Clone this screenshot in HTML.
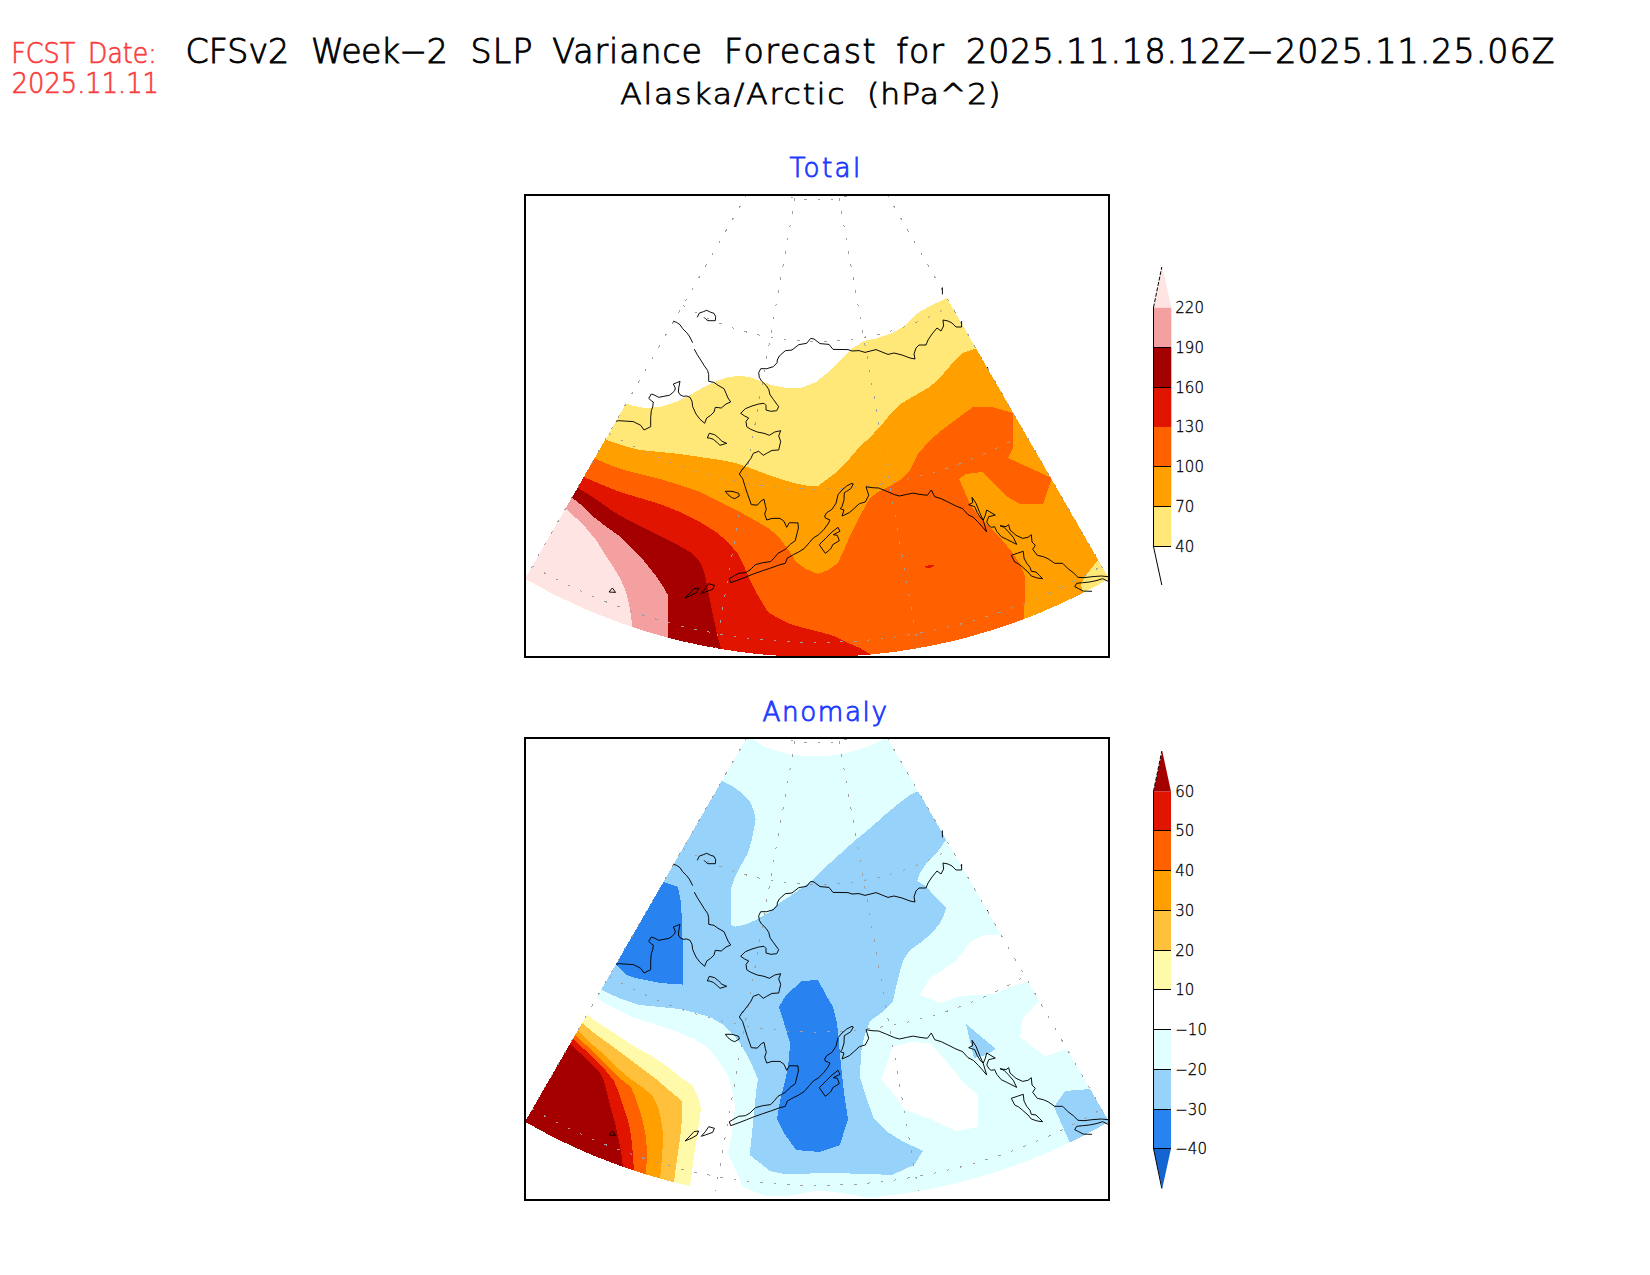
<!DOCTYPE html>
<html><head><meta charset="utf-8"><title>CFSv2 Week-2 SLP Variance Forecast</title>
<style>
html,body{margin:0;padding:0;background:#fff}
body{width:1650px;height:1275px;overflow:hidden;position:relative}
svg{position:absolute;left:0;top:0}
text{font-family:"DejaVu Sans","Liberation Sans",sans-serif;font-weight:200}
.t{fill:#000}
.lab{font-size:15px;fill:#000;stroke:#000;stroke-width:0.3px}
</style></head><body>
<svg width="1650" height="1275" viewBox="0 0 1650 1275">
<defs>

<clipPath id="s1"><path d="M745.99,196 L525.00,578.76 A584.0,584.0 0 0 0 1109.00,578.76 L888.01,196 Z"/></clipPath>
<clipPath id="s2"><path d="M745.99,739 L525.00,1121.76 A584.0,584.0 0 0 0 1109.00,1121.76 L888.01,739 Z"/></clipPath>
<clipPath id="f1"><rect x="526" y="196" width="582" height="460"/></clipPath>
<clipPath id="f2"><rect x="526" y="739" width="582" height="460"/></clipPath>
</defs>
<rect width="1650" height="1275" fill="#fff"/>
<g clip-path="url(#f1)" shape-rendering="crispEdges"><polygon points="480.0,404.0 627.0,404.0 634.0,406.0 644.0,408.0 660.0,407.0 676.0,402.0 690.0,395.0 704.0,387.0 716.0,381.0 728.0,377.0 740.0,376.0 750.0,377.0 760.0,381.0 772.0,385.0 786.0,388.0 802.0,387.6 816.0,382.0 826.0,374.0 838.0,362.0 850.0,350.0 864.0,341.0 878.0,338.0 892.0,333.0 905.0,326.0 916.0,314.0 930.0,306.0 947.0,298.0 1150.0,298.0 1150.0,700.0 480.0,700.0" fill="rgb(255,232,120)" />
<polygon points="480.0,440.0 607.0,440.0 624.0,446.0 640.0,450.0 660.0,452.0 680.0,454.0 700.0,457.0 720.0,460.0 736.0,463.0 750.0,468.0 766.0,474.0 780.0,479.0 794.0,483.0 806.0,485.6 818.0,486.0 834.0,474.0 850.0,458.0 862.0,444.0 870.0,438.0 874.0,433.0 884.0,422.0 892.0,412.0 902.0,403.0 914.0,396.0 928.0,388.0 938.0,380.0 950.0,366.0 962.0,353.0 975.0,349.0 1150.0,349.0 1150.0,700.0 480.0,700.0" fill="rgb(255,160,0)" />
<polygon points="1098.0,560.0 1090.0,570.0 1084.0,578.0 1081.0,584.0 1082.0,590.0 1090.0,610.0 1140.0,610.0 1140.0,560.0" fill="rgb(255,232,120)" />
<polygon points="480.0,459.0 596.0,459.0 610.0,465.0 624.0,470.0 640.0,474.0 660.0,479.0 680.0,485.0 700.0,492.0 720.0,502.0 740.0,512.0 756.0,521.0 768.0,528.0 778.0,536.0 784.0,544.0 790.0,552.0 796.0,562.0 806.0,569.0 818.0,574.0 828.0,570.0 838.0,563.0 843.0,552.0 850.0,536.0 860.0,516.0 870.0,498.0 878.0,492.0 890.0,486.0 902.0,479.0 910.0,470.0 918.0,454.0 930.0,440.0 942.0,430.0 958.0,418.0 973.0,407.0 992.0,407.0 1013.0,413.0 1013.0,448.0 1008.0,458.0 1030.0,468.0 1052.0,478.0 1048.0,490.0 1043.0,504.0 1020.0,504.0 1006.0,496.0 994.0,484.0 982.0,472.0 966.0,474.0 959.0,479.0 964.0,490.0 970.0,504.0 980.0,518.0 990.0,528.0 1002.0,540.0 1012.0,552.0 1020.0,564.0 1025.0,576.0 1025.0,590.0 1024.0,620.0 1024.0,700.0 480.0,700.0" fill="rgb(255,96,0)" />
<polygon points="480.0,477.0 584.0,477.0 600.0,484.0 620.0,492.0 640.0,498.0 660.0,504.0 680.0,512.0 700.0,522.0 716.0,532.0 728.0,542.0 738.0,554.0 744.0,566.0 750.0,580.0 756.0,592.0 762.0,602.0 768.0,612.0 778.0,618.0 790.0,624.0 804.0,628.0 820.0,632.0 834.0,636.0 846.0,642.0 860.0,648.0 870.0,654.0 880.0,700.0 480.0,700.0" fill="rgb(225,20,0)" />
<polygon points="925.0,566.0 934.0,564.5 933.0,567.0 926.0,568.5" fill="rgb(225,20,0)" />
<polygon points="480.0,488.0 578.0,488.0 588.0,494.0 600.0,502.0 614.0,512.0 628.0,520.0 644.0,528.0 660.0,536.0 676.0,544.0 690.0,552.0 698.0,559.0 702.0,566.0 705.0,576.0 708.0,590.0 711.0,606.0 714.0,620.0 717.0,634.0 721.0,649.0 724.0,700.0 480.0,700.0" fill="rgb(165,0,0)" />
<polygon points="480.0,498.0 572.4,498.0 580.0,504.0 590.0,514.0 604.0,525.0 618.0,535.0 632.0,548.0 644.0,561.0 656.0,576.0 664.0,588.0 668.4,596.0 668.4,700.0 480.0,700.0" fill="rgb(245,160,160)" />
<polygon points="480.0,509.0 566.0,509.0 576.0,518.0 586.0,528.0 596.0,540.0 606.0,556.0 614.0,568.0 621.0,580.0 626.0,592.0 629.0,604.0 631.0,616.0 632.4,627.0 634.0,700.0 480.0,700.0" fill="rgb(255,228,228)" /><path fill="#fff" fill-rule="evenodd" d="M520,190 H1115 V662 H520 Z M749.45,190 L525.00,578.76 A584.0,584.0 0 0 0 1109.00,578.76 L884.55,190 Z"/></g>
<g clip-path="url(#f1)" fill="none" stroke="#a0a0a0" stroke-width="1" stroke-dasharray="2.6 10.8" shape-rendering="crispEdges"><path d="M753.5,183.0 A127,127 0 0 0 880.5,183.0"/>
<path d="M682.8,305.5 A268.5,268.5 0 0 0 951.2,305.5"/>
<path d="M609.0,433.3 A416,416 0 0 0 1025.0,433.3"/>
<path d="M532.3,566.1 A569.4,569.4 0 0 0 1101.7,566.1"/>
<path d="M753.5,183.0 L525.0,578.8"/>
<path d="M794.9,198.1 L715.6,648.1"/>
<path d="M839.1,198.1 L918.4,648.1"/>
<path d="M880.5,183.0 L1109.0,578.8"/></g>
<g clip-path="url(#f1)" fill="none" stroke="#000" stroke-width="0.95" stroke-linejoin="round" shape-rendering="crispEdges"><path d="M697.3,317.3 L699.3,313.1 L703.3,311.7 L706.7,310.3 L710.7,312.3 L714.0,313.3 L715.7,316.7 L715.3,320.7 L708.0,320.7 L706.0,319.3 L704.0,317.3"/>
<path d="M673.1,321.1 L676.7,322.4 L680.0,324.7 L682.7,328.7 L686.7,332.7 L689.3,336.0 L692.7,342.7"/>
<path d="M694.3,349.1 L697.3,354.7 L700.7,360.0 L704.0,365.3 L707.7,370.7 L708.7,374.7 L708.7,381.3 L714.0,382.4 L718.0,385.3 L724.0,388.7 L726.0,393.3 L728.0,398.0 L730.7,402.0 L726.0,404.0 L721.3,408.0 L715.3,407.3 L714.0,412.0 L710.7,415.3 L706.7,418.0 L704.7,423.3 L700.0,419.3 L696.0,414.0 L692.7,406.7 L692.0,401.3 L690.0,397.3 L686.7,396.0 L683.3,396.3 L680.0,394.7 L678.4,392.0 L678.7,388.0 L680.0,381.3 L676.7,382.7 L673.3,384.0 L675.3,388.0 L674.7,390.7 L672.0,393.3 L669.3,395.3 L664.0,396.3 L658.7,397.3 L654.0,394.9 L651.3,394.0 L648.7,398.4 L651.3,400.7 L653.3,402.0 L652.7,406.7 L651.3,410.7 L650.7,417.3 L650.7,426.7 L644.0,430.0 L640.7,425.3 L633.3,421.6 L625.3,421.1 L618.7,420.7 L616.0,421.3"/>
<path d="M707.3,438.0 L709.3,433.3 L714.7,434.7 L718.7,438.0 L722.0,441.3 L726.7,443.3 L720.0,445.3 L717.3,442.7 L713.3,439.3 L709.3,438.0 L707.3,438.0"/>
<path d="M961.6,321.0 L961.6,327.0 L956.0,327.0 L952.0,323.0 L948.0,321.0 L943.0,320.0 L943.6,326.0 L941.0,331.0 L937.0,328.0 L932.0,334.0 L928.0,340.0 L926.0,345.0 L919.0,345.0 L916.0,348.0 L914.0,354.0 L915.0,359.0 L910.0,358.0 L902.0,355.0 L894.0,353.0 L888.0,354.4 L882.0,352.0 L876.0,349.6 L865.0,352.4 L859.0,350.6 L852.0,351.0 L848.0,349.6 L833.0,349.4 L829.0,344.4 L820.0,343.6 L814.0,339.0 L810.7,338.4 L806.7,343.3 L798.7,344.7 L792.0,350.0 L785.3,350.7 L779.3,356.0 L777.3,360.0 L777.1,362.7 L773.3,366.7 L766.7,368.7 L760.7,368.7 L758.7,372.7 L759.3,377.3 L761.3,380.7 L766.0,385.3 L768.7,389.3 L770.0,394.7 L773.3,399.3 L776.7,404.0 L778.7,406.7 L776.7,410.7 L770.7,411.3 L766.0,410.0 L766.0,405.3 L764.0,403.3 L758.7,404.0 L752.0,406.0 L745.3,408.7 L740.7,413.3 L744.7,416.0 L748.7,418.0 L746.0,421.3 L746.7,426.7 L750.7,429.3 L757.3,432.0 L764.0,433.3 L769.3,435.3 L774.7,432.0 L780.7,430.7 L778.7,436.0 L780.7,441.3 L778.7,450.0 L772.0,450.4 L766.7,453.3 L763.3,455.3 L758.7,451.3 L753.3,453.3 L750.7,458.7 L746.7,464.0 L742.7,469.3 L742.7,468.7 L739.3,474.0 L742.7,478.7 L744.7,485.3 L747.3,493.3 L751.3,504.7 L757.3,505.1 L761.3,500.7 L764.0,499.3 L765.3,505.3 L766.3,509.3 L764.7,514.0 L766.7,520.0 L772.0,518.4 L780.0,518.4 L784.0,521.3 L786.7,527.3 L789.3,522.7 L798.0,522.9 L798.4,528.0 L796.7,534.7 L795.3,540.7 L790.7,544.0 L785.3,549.3 L778.0,553.3 L774.7,557.3 L770.7,561.6 L762.7,562.7 L755.3,564.7 L750.0,570.0 L745.3,572.7 L738.7,573.3 L729.3,578.7 L730.7,582.7 L740.0,579.3 L746.7,576.7 L753.3,574.0 L762.7,570.7 L770.7,568.0 L780.0,564.7 L785.3,563.3 L787.3,558.0 L793.3,554.7 L798.7,552.0 L804.0,548.7 L809.3,542.7 L813.3,538.0 L818.7,534.7 L824.0,529.3 L828.0,524.0 L830.0,520.0 L825.3,518.0 L824.7,516.0 L826.7,512.7 L832.0,509.3 L836.0,503.3 L838.0,494.7 L842.0,490.0 L846.7,486.0 L852.0,483.3 L853.3,484.0 L850.7,488.7 L846.7,491.3 L844.3,492.7 L844.0,500.0 L842.0,506.7 L840.3,508.7 L844.0,510.0 L842.0,516.0 L849.3,512.7 L854.7,508.0 L859.3,503.7 L865.3,502.0 L868.7,495.3 L867.3,490.7 L866.0,486.7 L872.0,487.7 L878.7,488.0 L886.7,491.3 L894.7,494.7 L899.3,496.0 L906.7,494.4 L913.3,493.1 L920.0,494.4 L927.3,495.3 L931.3,490.0 L934.7,496.7 L941.3,498.7 L948.0,502.0 L956.0,506.0 L962.7,508.7 L968.0,514.7 L973.3,517.3 L978.7,522.7 L982.7,527.3 L986.7,532.0 L983.3,520.7 L980.0,513.3 L976.0,503.3 L972.0,497.3 L972.7,502.7 L968.7,504.7 L974.7,506.7 L977.3,512.7 L980.7,518.0 L983.3,520.0 L985.3,515.3 L986.7,510.0 L995.3,515.1 L988.7,516.7 L986.7,522.0 L989.3,526.0 L991.3,527.3 L994.7,526.7 L996.7,531.3 L1001.3,536.7 L1006.7,539.3 L1012.0,542.0 L1016.7,544.4 L1013.3,537.3 L1008.0,531.3 L1004.0,527.3 L1000.0,525.7 L1006.0,526.7 L1008.7,524.7 L1010.0,530.0 L1016.0,535.3 L1022.7,538.4 L1028.0,537.3 L1031.3,534.7 L1032.0,542.0 L1035.3,545.3 L1032.7,549.3 L1037.3,555.3 L1043.3,556.7 L1048.0,558.7 L1054.7,563.3 L1062.7,563.3 L1068.0,568.7 L1073.3,572.7 L1078.0,577.3 L1084.0,577.7 L1092.0,576.7 L1101.3,576.0 L1108.0,576.7"/>
<path d="M1108.0,581.3 L1102.7,578.7 L1096.0,580.7 L1089.3,582.0 L1082.7,582.7 L1076.7,583.3 L1074.7,586.7 L1078.7,588.7 L1083.3,591.1 L1092.0,591.3"/>
<path d="M1011.3,555.3 L1017.3,553.3 L1023.3,551.3 L1024.0,558.0 L1026.7,563.3 L1030.0,567.3 L1031.3,571.3 L1036.0,572.0 L1039.3,575.3 L1042.7,578.7 L1037.3,578.0 L1031.3,576.0 L1028.0,572.0 L1022.7,567.3 L1018.7,564.0 L1014.7,562.0 L1012.7,558.0 L1011.3,555.3"/>
<path d="M725.3,491.3 L732.0,491.3 L738.7,493.3 L739.3,496.0 L734.7,498.7 L731.3,497.3 L728.0,494.7 L725.3,491.3"/>
<path d="M819.3,544.7 L825.3,553.3 L828.7,550.7 L831.3,548.0 L832.7,544.7 L839.3,540.7 L837.3,535.3 L833.3,534.7 L840.0,531.3 L838.0,527.3 L832.0,532.0 L826.7,537.3 L819.3,544.7"/>
<path d="M701.3,593.3 L705.3,588.7 L708.7,583.7 L714.4,585.3 L712.7,589.3 L705.3,592.0 L701.3,593.3"/>
<path d="M685.0,598.0 L690.0,593.0 L694.0,588.6 L698.6,588.0 L697.0,592.0 L692.0,595.0 L685.0,598.0"/>
<path d="M609.0,592.0 L612.4,588.0 L615.6,592.4 L609.0,592.0"/>
<path d="M942.4,287.4 L942.4,294.4"/>
<path d="M987.2,367.0 L988.0,368.4"/></g>
<rect x="525" y="195" width="584" height="462" fill="none" stroke="#000" stroke-width="2"/>
<g clip-path="url(#f2)" shape-rendering="crispEdges"><rect x="480" y="700" width="700" height="560" fill="rgb(225,255,255)"/>
<polygon points="748.0,730.0 754.0,740.0 763.3,746.3 776.7,751.0 790.0,754.3 803.3,756.0 816.7,756.3 830.0,755.7 843.3,753.7 856.7,750.3 870.0,745.7 882.0,740.3 886.0,730.0" fill="#fff" />
<polygon points="1000.0,935.0 984.0,935.0 970.0,942.0 962.0,953.0 955.0,962.0 944.0,969.0 931.0,977.0 925.0,986.0 920.0,995.0 940.0,1003.0 960.0,996.0 994.0,994.0 1010.0,987.0 1027.0,982.0 1060.0,982.0 1060.0,935.0" fill="#fff" />
<polygon points="1040.0,1001.0 1023.0,1017.0 1020.0,1037.0 1045.0,1056.0 1068.0,1049.0 1100.0,1049.0 1100.0,1001.0" fill="#fff" />
<polygon points="892.0,1047.0 910.0,1042.0 930.0,1043.0 946.0,1061.0 964.0,1083.0 978.0,1095.0 978.0,1127.0 956.0,1131.0 930.0,1119.0 904.0,1109.0 896.0,1097.0 881.0,1079.0 888.0,1061.0" fill="#fff" />
<polygon points="480.0,998.0 597.0,998.0 608.0,1005.0 620.0,1011.0 632.0,1017.0 648.0,1022.0 664.0,1027.0 680.0,1033.0 694.0,1039.0 704.0,1045.0 712.0,1053.0 720.0,1063.0 728.0,1075.0 732.0,1089.0 735.0,1105.0 734.0,1119.0 731.0,1137.0 728.0,1153.0 733.0,1165.0 738.0,1175.0 742.7,1186.7 754.7,1192.0 766.7,1196.0 786.7,1196.0 800.0,1194.0 813.3,1191.3 826.7,1191.3 840.0,1192.7 853.3,1195.3 866.7,1197.3 885.0,1199.0 890.0,1250.0 480.0,1250.0" fill="#fff" />
<polygon points="722.0,781.0 732.0,786.0 742.0,793.0 750.0,802.0 754.0,811.0 755.6,819.0 754.0,829.0 752.0,839.0 748.0,853.0 740.0,867.0 734.0,879.0 731.0,889.0 731.0,925.0 735.0,926.6 744.0,925.0 756.0,920.0 768.0,913.0 779.3,903.0 790.0,896.3 811.3,881.0 819.3,873.7 830.0,863.0 843.3,851.0 856.7,839.0 870.0,828.3 883.3,816.3 899.3,803.0 910.0,795.0 918.7,791.0 960.0,791.0 985.0,840.0 946.0,840.0 938.0,851.0 928.0,861.0 920.0,873.0 917.0,881.0 926.0,886.0 930.0,891.0 946.0,908.0 944.0,915.0 940.0,923.0 932.0,933.0 920.0,943.0 910.0,950.0 904.0,959.0 900.0,971.0 896.0,987.0 893.0,1001.0 884.0,1011.0 870.0,1021.0 864.0,1037.0 861.0,1053.0 860.0,1077.0 866.0,1097.0 874.0,1119.0 886.0,1131.0 902.0,1141.0 923.0,1151.0 914.0,1165.0 892.0,1175.0 870.0,1174.0 830.0,1173.0 790.0,1174.0 784.0,1174.0 770.0,1171.0 760.0,1163.0 749.6,1155.0 752.0,1133.0 754.0,1113.0 756.0,1093.0 758.0,1079.0 752.0,1065.0 746.0,1053.0 740.0,1043.0 732.0,1033.0 722.0,1024.0 710.0,1017.0 696.0,1013.0 680.0,1009.0 660.0,1007.0 640.0,1005.0 624.0,1000.0 610.0,994.0 602.0,990.0 555.0,990.0 675.0,781.0" fill="rgb(150,210,250)" />
<polygon points="966.0,1024.0 996.0,1049.0 986.0,1055.0 974.0,1058.0" fill="rgb(150,210,250)" />
<polygon points="1065.0,1091.0 1090.0,1089.0 1140.0,1089.0 1140.0,1170.0 1075.0,1170.0 1070.0,1143.0 1054.0,1107.0" fill="rgb(150,210,250)" />
<polygon points="664.0,882.0 678.0,887.0 681.0,903.0 682.0,923.0 683.0,953.0 683.0,984.6 660.0,983.0 640.0,979.0 629.0,976.0 624.0,973.0 616.0,965.0 585.0,965.0 635.0,882.0" fill="rgb(40,130,240)" />
<polygon points="818.0,980.0 802.0,981.0 786.0,995.0 779.0,1007.0 784.0,1023.0 790.0,1043.0 789.0,1059.0 786.0,1077.0 780.0,1101.0 777.0,1119.0 784.0,1133.0 796.0,1150.0 820.0,1152.0 840.0,1145.0 843.0,1135.0 848.0,1119.0 844.0,1093.0 841.0,1065.0 839.0,1043.0 837.0,1023.0 833.0,1007.0 826.0,995.0" fill="rgb(40,130,240)" />
<polygon points="480.0,1015.0 587.0,1015.0 600.0,1024.0 614.0,1033.0 632.0,1045.0 650.0,1055.0 668.0,1067.0 680.0,1077.0 692.0,1085.0 698.0,1097.0 701.0,1109.0 699.0,1123.0 696.0,1143.0 693.0,1163.0 690.0,1186.0 688.0,1250.0 480.0,1250.0" fill="rgb(255,250,170)" />
<polygon points="480.0,1023.0 582.0,1023.0 594.0,1033.0 608.0,1043.0 624.0,1055.0 640.0,1067.0 656.0,1079.0 670.0,1091.0 682.0,1101.0 681.6,1123.0 680.0,1139.0 677.0,1159.0 674.0,1182.0 672.0,1250.0 480.0,1250.0" fill="rgb(255,192,60)" />
<polygon points="480.0,1031.0 578.0,1031.0 588.0,1041.0 600.0,1051.0 614.0,1065.0 628.0,1077.0 642.0,1087.0 652.0,1095.0 658.0,1107.0 661.0,1119.0 663.0,1133.0 662.4,1153.0 660.0,1179.0 658.0,1250.0 480.0,1250.0" fill="rgb(255,160,0)" />
<polygon points="480.0,1035.0 575.0,1035.0 586.0,1045.0 598.0,1057.0 610.0,1069.0 622.0,1080.0 631.0,1087.0 636.0,1099.0 640.0,1111.0 643.0,1123.0 646.0,1137.0 647.0,1153.0 646.0,1175.0 645.0,1250.0 480.0,1250.0" fill="rgb(255,96,0)" />
<polygon points="480.0,1039.0 573.0,1039.0 584.0,1049.0 596.0,1061.0 606.0,1071.0 614.0,1081.0 619.0,1093.0 623.0,1105.0 627.0,1117.0 630.0,1129.0 632.0,1143.0 633.0,1157.0 634.0,1171.0 634.0,1250.0 480.0,1250.0" fill="rgb(225,20,0)" />
<polygon points="480.0,1044.0 570.0,1044.0 580.0,1053.0 590.0,1063.0 600.0,1073.0 604.0,1081.0 607.0,1093.0 611.0,1109.0 615.0,1123.0 618.0,1137.0 621.0,1151.0 623.0,1167.0 624.0,1250.0 480.0,1250.0" fill="rgb(165,0,0)" /><path fill="#fff" fill-rule="evenodd" d="M520,733 H1115 V1205 H520 Z M749.45,733 L525.00,1121.76 A584.0,584.0 0 0 0 1109.00,1121.76 L884.55,733 Z"/></g>
<g clip-path="url(#f2)" fill="none" stroke="#a0a0a0" stroke-width="1" stroke-dasharray="2.6 10.8" shape-rendering="crispEdges"><path d="M753.5,726.0 A127,127 0 0 0 880.5,726.0"/>
<path d="M682.8,848.5 A268.5,268.5 0 0 0 951.2,848.5"/>
<path d="M609.0,976.3 A416,416 0 0 0 1025.0,976.3"/>
<path d="M532.3,1109.1 A569.4,569.4 0 0 0 1101.7,1109.1"/>
<path d="M753.5,726.0 L525.0,1121.8"/>
<path d="M794.9,741.1 L715.6,1191.1"/>
<path d="M839.1,741.1 L918.4,1191.1"/>
<path d="M880.5,726.0 L1109.0,1121.8"/></g>
<g clip-path="url(#f2)"><g fill="none" stroke="#000" stroke-width="0.95" stroke-linejoin="round" shape-rendering="crispEdges" transform="translate(0,543.0)"><path d="M697.3,317.3 L699.3,313.1 L703.3,311.7 L706.7,310.3 L710.7,312.3 L714.0,313.3 L715.7,316.7 L715.3,320.7 L708.0,320.7 L706.0,319.3 L704.0,317.3"/>
<path d="M673.1,321.1 L676.7,322.4 L680.0,324.7 L682.7,328.7 L686.7,332.7 L689.3,336.0 L692.7,342.7"/>
<path d="M694.3,349.1 L697.3,354.7 L700.7,360.0 L704.0,365.3 L707.7,370.7 L708.7,374.7 L708.7,381.3 L714.0,382.4 L718.0,385.3 L724.0,388.7 L726.0,393.3 L728.0,398.0 L730.7,402.0 L726.0,404.0 L721.3,408.0 L715.3,407.3 L714.0,412.0 L710.7,415.3 L706.7,418.0 L704.7,423.3 L700.0,419.3 L696.0,414.0 L692.7,406.7 L692.0,401.3 L690.0,397.3 L686.7,396.0 L683.3,396.3 L680.0,394.7 L678.4,392.0 L678.7,388.0 L680.0,381.3 L676.7,382.7 L673.3,384.0 L675.3,388.0 L674.7,390.7 L672.0,393.3 L669.3,395.3 L664.0,396.3 L658.7,397.3 L654.0,394.9 L651.3,394.0 L648.7,398.4 L651.3,400.7 L653.3,402.0 L652.7,406.7 L651.3,410.7 L650.7,417.3 L650.7,426.7 L644.0,430.0 L640.7,425.3 L633.3,421.6 L625.3,421.1 L618.7,420.7 L616.0,421.3"/>
<path d="M707.3,438.0 L709.3,433.3 L714.7,434.7 L718.7,438.0 L722.0,441.3 L726.7,443.3 L720.0,445.3 L717.3,442.7 L713.3,439.3 L709.3,438.0 L707.3,438.0"/>
<path d="M961.6,321.0 L961.6,327.0 L956.0,327.0 L952.0,323.0 L948.0,321.0 L943.0,320.0 L943.6,326.0 L941.0,331.0 L937.0,328.0 L932.0,334.0 L928.0,340.0 L926.0,345.0 L919.0,345.0 L916.0,348.0 L914.0,354.0 L915.0,359.0 L910.0,358.0 L902.0,355.0 L894.0,353.0 L888.0,354.4 L882.0,352.0 L876.0,349.6 L865.0,352.4 L859.0,350.6 L852.0,351.0 L848.0,349.6 L833.0,349.4 L829.0,344.4 L820.0,343.6 L814.0,339.0 L810.7,338.4 L806.7,343.3 L798.7,344.7 L792.0,350.0 L785.3,350.7 L779.3,356.0 L777.3,360.0 L777.1,362.7 L773.3,366.7 L766.7,368.7 L760.7,368.7 L758.7,372.7 L759.3,377.3 L761.3,380.7 L766.0,385.3 L768.7,389.3 L770.0,394.7 L773.3,399.3 L776.7,404.0 L778.7,406.7 L776.7,410.7 L770.7,411.3 L766.0,410.0 L766.0,405.3 L764.0,403.3 L758.7,404.0 L752.0,406.0 L745.3,408.7 L740.7,413.3 L744.7,416.0 L748.7,418.0 L746.0,421.3 L746.7,426.7 L750.7,429.3 L757.3,432.0 L764.0,433.3 L769.3,435.3 L774.7,432.0 L780.7,430.7 L778.7,436.0 L780.7,441.3 L778.7,450.0 L772.0,450.4 L766.7,453.3 L763.3,455.3 L758.7,451.3 L753.3,453.3 L750.7,458.7 L746.7,464.0 L742.7,469.3 L742.7,468.7 L739.3,474.0 L742.7,478.7 L744.7,485.3 L747.3,493.3 L751.3,504.7 L757.3,505.1 L761.3,500.7 L764.0,499.3 L765.3,505.3 L766.3,509.3 L764.7,514.0 L766.7,520.0 L772.0,518.4 L780.0,518.4 L784.0,521.3 L786.7,527.3 L789.3,522.7 L798.0,522.9 L798.4,528.0 L796.7,534.7 L795.3,540.7 L790.7,544.0 L785.3,549.3 L778.0,553.3 L774.7,557.3 L770.7,561.6 L762.7,562.7 L755.3,564.7 L750.0,570.0 L745.3,572.7 L738.7,573.3 L729.3,578.7 L730.7,582.7 L740.0,579.3 L746.7,576.7 L753.3,574.0 L762.7,570.7 L770.7,568.0 L780.0,564.7 L785.3,563.3 L787.3,558.0 L793.3,554.7 L798.7,552.0 L804.0,548.7 L809.3,542.7 L813.3,538.0 L818.7,534.7 L824.0,529.3 L828.0,524.0 L830.0,520.0 L825.3,518.0 L824.7,516.0 L826.7,512.7 L832.0,509.3 L836.0,503.3 L838.0,494.7 L842.0,490.0 L846.7,486.0 L852.0,483.3 L853.3,484.0 L850.7,488.7 L846.7,491.3 L844.3,492.7 L844.0,500.0 L842.0,506.7 L840.3,508.7 L844.0,510.0 L842.0,516.0 L849.3,512.7 L854.7,508.0 L859.3,503.7 L865.3,502.0 L868.7,495.3 L867.3,490.7 L866.0,486.7 L872.0,487.7 L878.7,488.0 L886.7,491.3 L894.7,494.7 L899.3,496.0 L906.7,494.4 L913.3,493.1 L920.0,494.4 L927.3,495.3 L931.3,490.0 L934.7,496.7 L941.3,498.7 L948.0,502.0 L956.0,506.0 L962.7,508.7 L968.0,514.7 L973.3,517.3 L978.7,522.7 L982.7,527.3 L986.7,532.0 L983.3,520.7 L980.0,513.3 L976.0,503.3 L972.0,497.3 L972.7,502.7 L968.7,504.7 L974.7,506.7 L977.3,512.7 L980.7,518.0 L983.3,520.0 L985.3,515.3 L986.7,510.0 L995.3,515.1 L988.7,516.7 L986.7,522.0 L989.3,526.0 L991.3,527.3 L994.7,526.7 L996.7,531.3 L1001.3,536.7 L1006.7,539.3 L1012.0,542.0 L1016.7,544.4 L1013.3,537.3 L1008.0,531.3 L1004.0,527.3 L1000.0,525.7 L1006.0,526.7 L1008.7,524.7 L1010.0,530.0 L1016.0,535.3 L1022.7,538.4 L1028.0,537.3 L1031.3,534.7 L1032.0,542.0 L1035.3,545.3 L1032.7,549.3 L1037.3,555.3 L1043.3,556.7 L1048.0,558.7 L1054.7,563.3 L1062.7,563.3 L1068.0,568.7 L1073.3,572.7 L1078.0,577.3 L1084.0,577.7 L1092.0,576.7 L1101.3,576.0 L1108.0,576.7"/>
<path d="M1108.0,581.3 L1102.7,578.7 L1096.0,580.7 L1089.3,582.0 L1082.7,582.7 L1076.7,583.3 L1074.7,586.7 L1078.7,588.7 L1083.3,591.1 L1092.0,591.3"/>
<path d="M1011.3,555.3 L1017.3,553.3 L1023.3,551.3 L1024.0,558.0 L1026.7,563.3 L1030.0,567.3 L1031.3,571.3 L1036.0,572.0 L1039.3,575.3 L1042.7,578.7 L1037.3,578.0 L1031.3,576.0 L1028.0,572.0 L1022.7,567.3 L1018.7,564.0 L1014.7,562.0 L1012.7,558.0 L1011.3,555.3"/>
<path d="M725.3,491.3 L732.0,491.3 L738.7,493.3 L739.3,496.0 L734.7,498.7 L731.3,497.3 L728.0,494.7 L725.3,491.3"/>
<path d="M819.3,544.7 L825.3,553.3 L828.7,550.7 L831.3,548.0 L832.7,544.7 L839.3,540.7 L837.3,535.3 L833.3,534.7 L840.0,531.3 L838.0,527.3 L832.0,532.0 L826.7,537.3 L819.3,544.7"/>
<path d="M701.3,593.3 L705.3,588.7 L708.7,583.7 L714.4,585.3 L712.7,589.3 L705.3,592.0 L701.3,593.3"/>
<path d="M685.0,598.0 L690.0,593.0 L694.0,588.6 L698.6,588.0 L697.0,592.0 L692.0,595.0 L685.0,598.0"/>
<path d="M609.0,592.0 L612.4,588.0 L615.6,592.4 L609.0,592.0"/>
<path d="M942.4,287.4 L942.4,294.4"/>
<path d="M987.2,367.0 L988.0,368.4"/></g></g>
<rect x="525" y="738" width="584" height="462" fill="none" stroke="#000" stroke-width="2"/>
<rect x="1153.5" y="506.5" width="17.799999999999955" height="40.0" fill="rgb(255,232,120)"/>
<rect x="1153.5" y="466.5" width="17.799999999999955" height="40.0" fill="rgb(255,160,0)"/>
<rect x="1153.5" y="427.0" width="17.799999999999955" height="39.5" fill="rgb(255,96,0)"/>
<rect x="1153.5" y="387.5" width="17.799999999999955" height="39.5" fill="rgb(225,20,0)"/>
<rect x="1153.5" y="347.5" width="17.799999999999955" height="40.0" fill="rgb(165,0,0)"/>
<rect x="1153.5" y="307.5" width="17.799999999999955" height="40.0" fill="rgb(245,160,160)"/>
<polygon points="1153.5,307.5 1171.3,307.5 1162.4,267" fill="rgb(255,228,228)"/>
<g stroke="#000" stroke-width="1" fill="none" shape-rendering="crispEdges">
<path d="M1153.5,307 V547"/>
<path d="M1153,546.5 H1171.3"/>
<path d="M1153,506.5 H1171.3"/>
<path d="M1153,466.5 H1171.3"/>
<path d="M1153,387.5 H1171.3"/>
<path d="M1153,347.5 H1171.3"/>
</g>
<g stroke="#000" stroke-width="1" fill="none"><path d="M1153.5,307.5 L1161.8,267" stroke-dasharray="4 1.5"/><path d="M1153.5,546.5 L1161.8,585"/></g>
<text class="lab" x="1175.3" y="551.6">40</text>
<text class="lab" x="1175.3" y="511.6">70</text>
<text class="lab" x="1175.3" y="471.6">100</text>
<text class="lab" x="1175.3" y="432.1">130</text>
<text class="lab" x="1175.3" y="392.6">160</text>
<text class="lab" x="1175.3" y="352.6">190</text>
<text class="lab" x="1175.3" y="312.6">220</text>
<rect x="1153.5" y="1109.5" width="17.5" height="39.0" fill="rgb(40,130,240)"/>
<rect x="1153.5" y="1069.5" width="17.5" height="40.0" fill="rgb(150,210,250)"/>
<rect x="1153.5" y="1029.5" width="17.5" height="40.0" fill="rgb(225,255,255)"/>
<rect x="1153.5" y="989.5" width="17.5" height="40.0" fill="#fff"/>
<rect x="1153.5" y="950.5" width="17.5" height="39.0" fill="rgb(255,250,170)"/>
<rect x="1153.5" y="910.5" width="17.5" height="40.0" fill="rgb(255,192,60)"/>
<rect x="1153.5" y="870.5" width="17.5" height="40.0" fill="rgb(255,160,0)"/>
<rect x="1153.5" y="830.5" width="17.5" height="40.0" fill="rgb(255,96,0)"/>
<rect x="1153.5" y="791.5" width="17.5" height="39.0" fill="rgb(225,20,0)"/>
<polygon points="1153.5,791.5 1171,791.5 1162.25,751" fill="rgb(165,0,0)"/>
<polygon points="1153.5,1148.5 1171,1148.5 1162.25,1188.5" fill="rgb(20,100,210)"/>
<g stroke="#000" stroke-width="1" fill="none" shape-rendering="crispEdges">
<path d="M1153.5,791 V1149"/>
<path d="M1153,1148.5 H1171"/>
<path d="M1153,1109.5 H1171"/>
<path d="M1153,1069.5 H1171"/>
<path d="M1153,1029.5 H1171"/>
<path d="M1153,989.5 H1171"/>
<path d="M1153,950.5 H1171"/>
<path d="M1153,910.5 H1171"/>
<path d="M1153,870.5 H1171"/>
<path d="M1153,830.5 H1171"/>
</g>
<g stroke="#000" stroke-width="1" fill="none"><path d="M1153.5,791.5 L1161.8,751" stroke-dasharray="4 1.5"/><path d="M1153.5,1148.5 L1161.8,1188.5"/></g>
<text class="lab" x="1175.3" y="1153.6">−40</text>
<text class="lab" x="1175.3" y="1114.6">−30</text>
<text class="lab" x="1175.3" y="1074.6">−20</text>
<text class="lab" x="1175.3" y="1034.6">−10</text>
<text class="lab" x="1175.3" y="994.6">10</text>
<text class="lab" x="1175.3" y="955.6">20</text>
<text class="lab" x="1175.3" y="915.6">30</text>
<text class="lab" x="1175.3" y="875.6">40</text>
<text class="lab" x="1175.3" y="835.6">50</text>
<text class="lab" x="1175.3" y="796.6">60</text>
<text y="63.2" font-size="33.2" fill="#000" stroke="#000" stroke-width="0.9"><tspan x="185.6" textLength="103.6" lengthAdjust="spacing">CFSv2</tspan> <tspan x="310.9" textLength="136.9" lengthAdjust="spacing">Week−2</tspan> <tspan x="470.5" textLength="61.9" lengthAdjust="spacing">SLP</tspan> <tspan x="552.2" textLength="149.7" lengthAdjust="spacing">Variance</tspan> <tspan x="723.9" textLength="151.7" lengthAdjust="spacing">Forecast</tspan> <tspan x="896.3" textLength="47.7" lengthAdjust="spacing">for</tspan> <tspan x="966.0" textLength="588.4" lengthAdjust="spacing">2025.11.18.12Z−2025.11.25.06Z</tspan></text>
<text y="104.4" font-size="28" fill="#000" stroke="#000" stroke-width="0.8" transform="scale(1.12,1)"><tspan x="553.7" textLength="200.4" lengthAdjust="spacing">Alaska/Arctic</tspan> <tspan x="774.1" textLength="119.2" lengthAdjust="spacing">(hPa^2)</tspan></text>
<text y="62.7" font-size="28" fill="rgb(250,60,60)" stroke="rgb(250,60,60)" stroke-width="0.7"><tspan x="11.2" textLength="64.1" lengthAdjust="spacingAndGlyphs">FCST</tspan> <tspan x="88.1" textLength="68.5" lengthAdjust="spacingAndGlyphs">Date:</tspan></text>
<text y="93.2" font-size="28" fill="rgb(250,60,60)" stroke="rgb(250,60,60)" stroke-width="0.7"><tspan x="11.7" textLength="147.3" lengthAdjust="spacingAndGlyphs">2025.11.11</tspan></text>
<text y="176.9" font-size="26.2" fill="rgb(30,60,255)" stroke="rgb(30,60,255)" stroke-width="0.9"><tspan x="789.4" textLength="71.0" lengthAdjust="spacing">Total</tspan></text>
<text y="720.9" font-size="26.2" fill="rgb(30,60,255)" stroke="rgb(30,60,255)" stroke-width="0.9"><tspan x="762.5" textLength="124.5" lengthAdjust="spacing">Anomaly</tspan></text>
</svg></body></html>
